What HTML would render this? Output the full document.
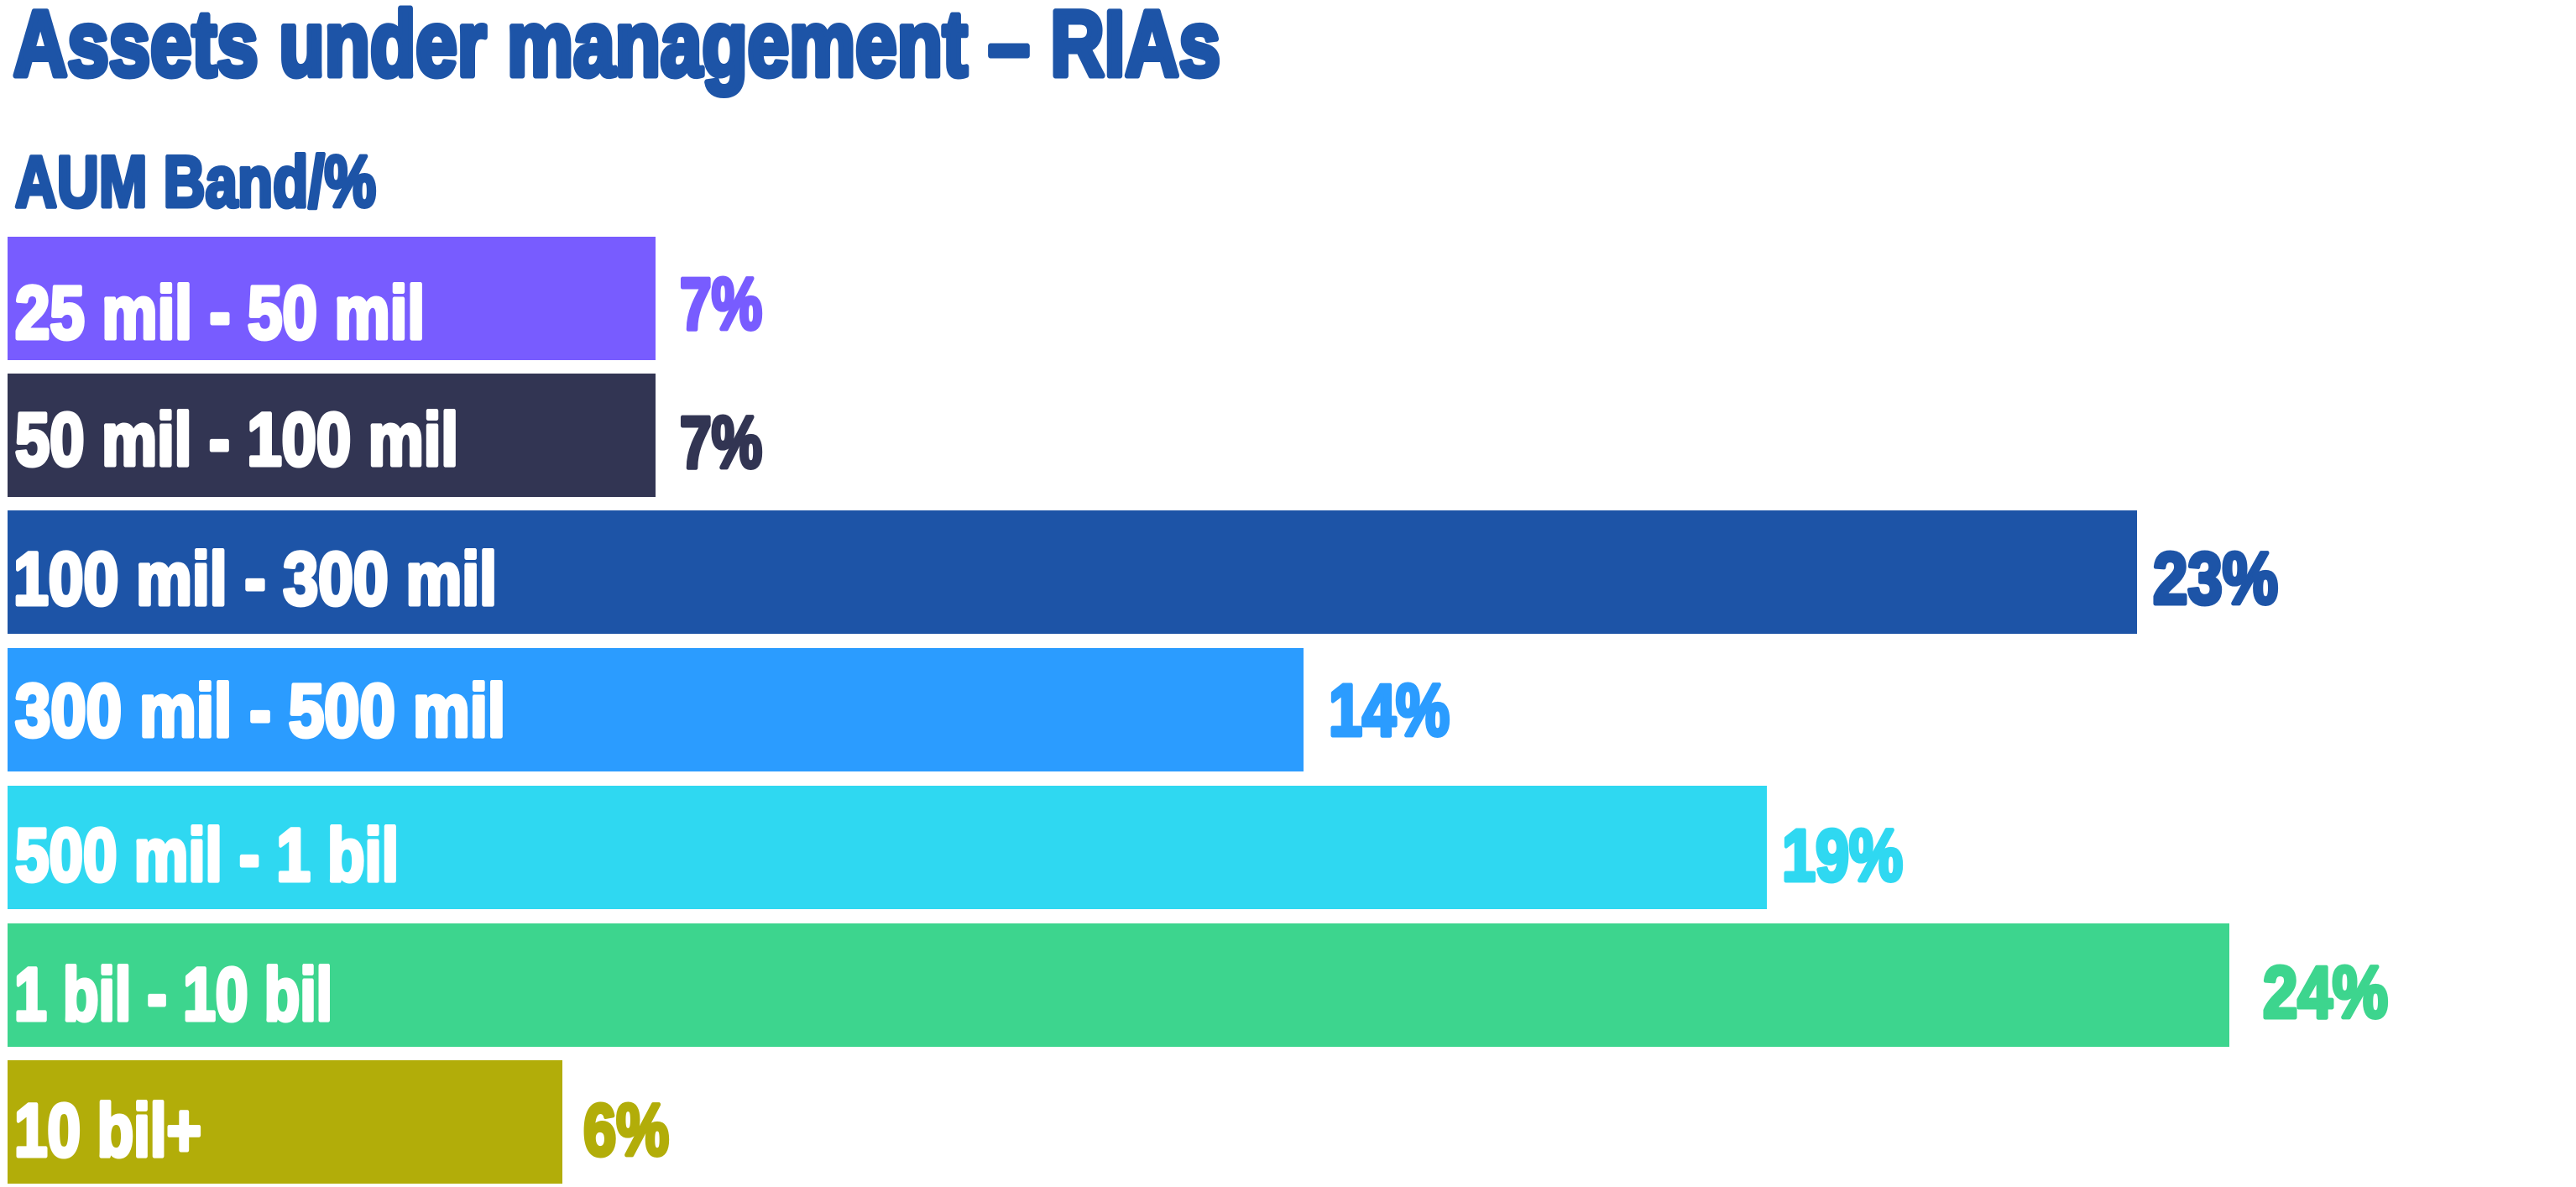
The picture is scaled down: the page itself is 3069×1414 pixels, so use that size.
<!DOCTYPE html>
<html>
<head>
<meta charset="utf-8">
<style>
html,body{margin:0;padding:0;background:#ffffff;}
body{width:3069px;height:1414px;overflow:hidden;}
svg{display:block;}
text{font-family:"Liberation Sans",Arial,sans-serif;font-weight:bold;stroke-linejoin:round;}
</style>
</head>
<body>
<svg width="3069" height="1414" viewBox="0 0 3069 1414" xmlns="http://www.w3.org/2000/svg">
  <rect x="0" y="0" width="3069" height="1414" fill="#ffffff"/>

  <!-- Title -->
  <text x="16" y="90" font-size="110" fill="#1d54a7" stroke="#1d54a7" stroke-width="7" textLength="1438" lengthAdjust="spacingAndGlyphs">Assets under management – RIAs</text>
  <text x="18" y="246" font-size="86" fill="#1d54a7" stroke="#1d54a7" stroke-width="5" textLength="430" lengthAdjust="spacingAndGlyphs">AUM Band/%</text>

  <!-- Bars -->
  <rect x="9" y="282" width="772" height="147" fill="#785cff"/>
  <rect x="9" y="445" width="772" height="147" fill="#323553"/>
  <rect x="9" y="608" width="2537" height="147" fill="#1d54a7"/>
  <rect x="9" y="772" width="1544" height="147" fill="#2b9cff"/>
  <rect x="9" y="936" width="2096" height="147" fill="#2fd8f1"/>
  <rect x="9" y="1100" width="2647" height="147" fill="#3dd58e"/>
  <rect x="9" y="1263" width="661" height="147" fill="#b2ad09"/>

  <!-- Bar labels -->
  <g fill="#ffffff" stroke="#ffffff" stroke-width="5" font-size="89">
    <text x="18" y="403" textLength="488" lengthAdjust="spacingAndGlyphs">25 mil - 50 mil</text>
    <text x="18" y="554" textLength="528" lengthAdjust="spacingAndGlyphs">50 mil - 100 mil</text>
    <text x="16" y="720" textLength="576" lengthAdjust="spacingAndGlyphs">100 mil - 300 mil</text>
    <text x="18" y="877" textLength="584" lengthAdjust="spacingAndGlyphs">300 mil - 500 mil</text>
    <text x="18" y="1049" textLength="457" lengthAdjust="spacingAndGlyphs">500 mil - 1 bil</text>
    <text x="17" y="1215" textLength="379" lengthAdjust="spacingAndGlyphs">1 bil - 10 bil</text>
    <text x="17" y="1377" textLength="223" lengthAdjust="spacingAndGlyphs">10 bil+</text>
  </g>

  <!-- Value labels -->
  <g font-size="87" stroke-width="5">
    <text x="810" y="392" fill="#785cff" stroke="#785cff" textLength="98" lengthAdjust="spacingAndGlyphs">7%</text>
    <text x="810" y="557" fill="#323553" stroke="#323553" textLength="98" lengthAdjust="spacingAndGlyphs">7%</text>
    <text x="2565" y="719" fill="#1d54a7" stroke="#1d54a7" textLength="149" lengthAdjust="spacingAndGlyphs">23%</text>
    <text x="1583" y="876" fill="#2b9cff" stroke="#2b9cff" textLength="144" lengthAdjust="spacingAndGlyphs">14%</text>
    <text x="2123" y="1049" fill="#2fd8f1" stroke="#2fd8f1" textLength="144" lengthAdjust="spacingAndGlyphs">19%</text>
    <text x="2696" y="1212" fill="#3dd58e" stroke="#3dd58e" textLength="149" lengthAdjust="spacingAndGlyphs">24%</text>
    <text x="695" y="1376" fill="#b2ad09" stroke="#b2ad09" textLength="102" lengthAdjust="spacingAndGlyphs">6%</text>
  </g>
</svg>
</body>
</html>
